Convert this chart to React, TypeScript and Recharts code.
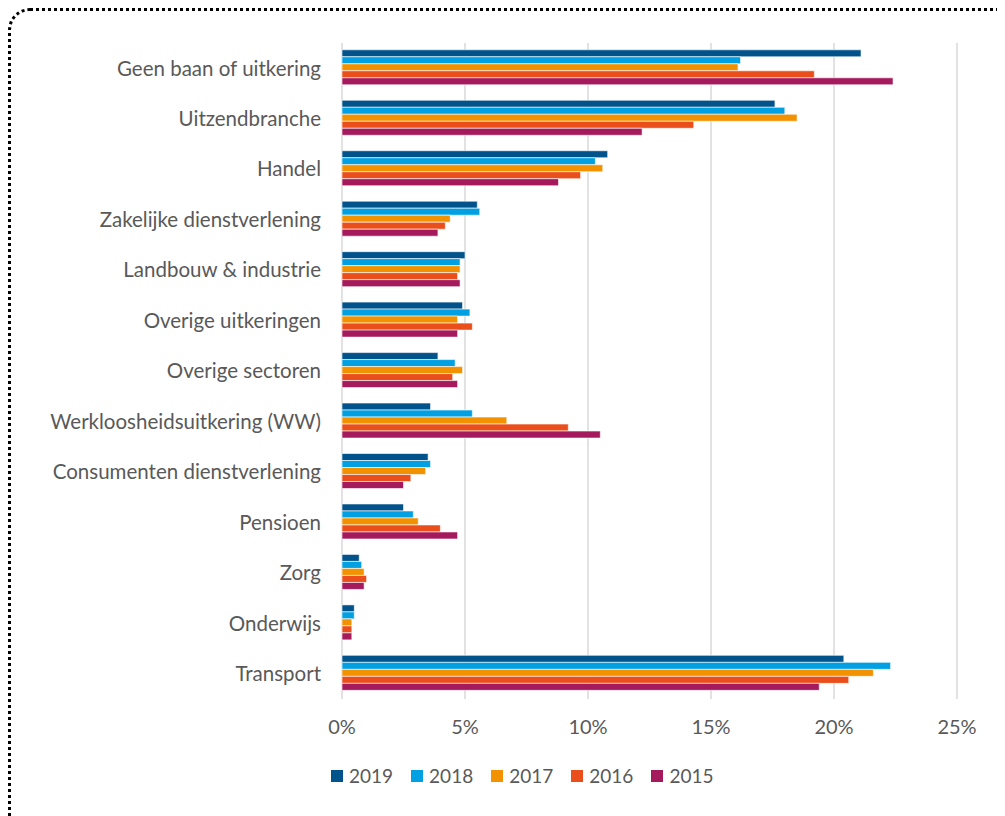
import { BarChart, Bar, XAxis, YAxis, CartesianGrid, Legend } from 'recharts'

const categories = [
  'Geen baan of uitkering',
  'Uitzendbranche',
  'Handel',
  'Zakelijke dienstverlening',
  'Landbouw & industrie',
  'Overige uitkeringen',
  'Overige sectoren',
  'Werkloosheidsuitkering (WW)',
  'Consumenten dienstverlening',
  'Pensioen',
  'Zorg',
  'Onderwijs',
  'Transport',
]

const v2019 = [21.1, 17.6, 10.8, 5.5, 5.0, 4.9, 3.9, 3.6, 3.5, 2.5, 0.7, 0.5, 20.4]
const v2018 = [16.2, 18.0, 10.3, 5.6, 4.8, 5.2, 4.6, 5.3, 3.6, 2.9, 0.8, 0.5, 22.3]
const v2017 = [16.1, 18.5, 10.6, 4.4, 4.8, 4.7, 4.9, 6.7, 3.4, 3.1, 0.9, 0.4, 21.6]
const v2016 = [19.2, 14.3, 9.7, 4.2, 4.7, 5.3, 4.5, 9.2, 2.8, 4.0, 1.0, 0.4, 20.6]
const v2015 = [22.4, 12.2, 8.8, 3.9, 4.8, 4.7, 4.7, 10.5, 2.5, 4.7, 0.9, 0.4, 19.4]

const xTicks = [0, 5, 10, 15, 20, 25]

const series = [
  { key: '2019', color: '#02538b' },
  { key: '2018', color: '#00a0e2' },
  { key: '2017', color: '#f39200' },
  { key: '2016', color: '#e94e1b' },
  { key: '2015', color: '#a41a5c' },
]

const data = categories.map((name, i) => ({
  name,
  '2019': v2019[i],
  '2018': v2018[i],
  '2017': v2017[i],
  '2016': v2016[i],
  '2015': v2015[i],
}))

const FONT = 'Lato, "Open Sans", sans-serif'
const TEXT = '#595959'

// legend in series order (recharts reverses it in vertical layout)
function YearLegend() {
  return (
    <div style={{ display: 'flex', alignItems: 'center', fontFamily: FONT, fontSize: 19, color: TEXT }}>
      {series.map((s) => (
        <div key={s.key} style={{ display: 'flex', alignItems: 'center', marginRight: 18 }}>
          <span style={{ width: 12, height: 12, background: s.color, marginRight: 6 }} />
          <span>{s.key}</span>
        </div>
      ))}
    </div>
  )
}

export default function App() {
  return (
    <div
      style={{
        position: 'relative',
        boxSizing: 'border-box',
        width: 997,
        height: 808,
        borderTop: '3px dotted #000',
        borderLeft: '3px dotted #000',
        borderTopLeftRadius: 22,
        fontFamily: FONT,
      }}
    >
      <BarChart
        width={980}
        height={795}
        data={data}
        layout="vertical"
        margin={{ top: 32, right: 34, left: 0, bottom: 44 }}
        barGap={0}
        barCategoryGap="13.5%"
      >
        <CartesianGrid horizontal={false} stroke="#d9d9d9" strokeWidth={1.5} />
        <XAxis
          type="number"
          domain={[0, 25]}
          ticks={xTicks}
          tickFormatter={(v) => `${v}%`}
          axisLine={false}
          tickLine={false}
          tickMargin={15}
          height={40}
          tick={{ fill: TEXT, fontSize: 20, fontFamily: FONT }}
        />
        <YAxis
          type="category"
          dataKey="name"
          width={331}
          axisLine={false}
          tickLine={false}
          tickMargin={15}
          interval={0}
          tick={{ fill: TEXT, fontSize: 20.5, fontFamily: FONT }}
        />
        <Legend content={<YearLegend />} wrapperStyle={{ top: 753, left: 320, width: 420 }} />
        {series.map((s) => (
          <Bar
            key={s.key}
            dataKey={s.key}
            name={s.key}
            fill={s.color}
            stroke="#ffffff"
            strokeWidth={0.6}
            isAnimationActive={false}
          />
        ))}
      </BarChart>
    </div>
  )
}
